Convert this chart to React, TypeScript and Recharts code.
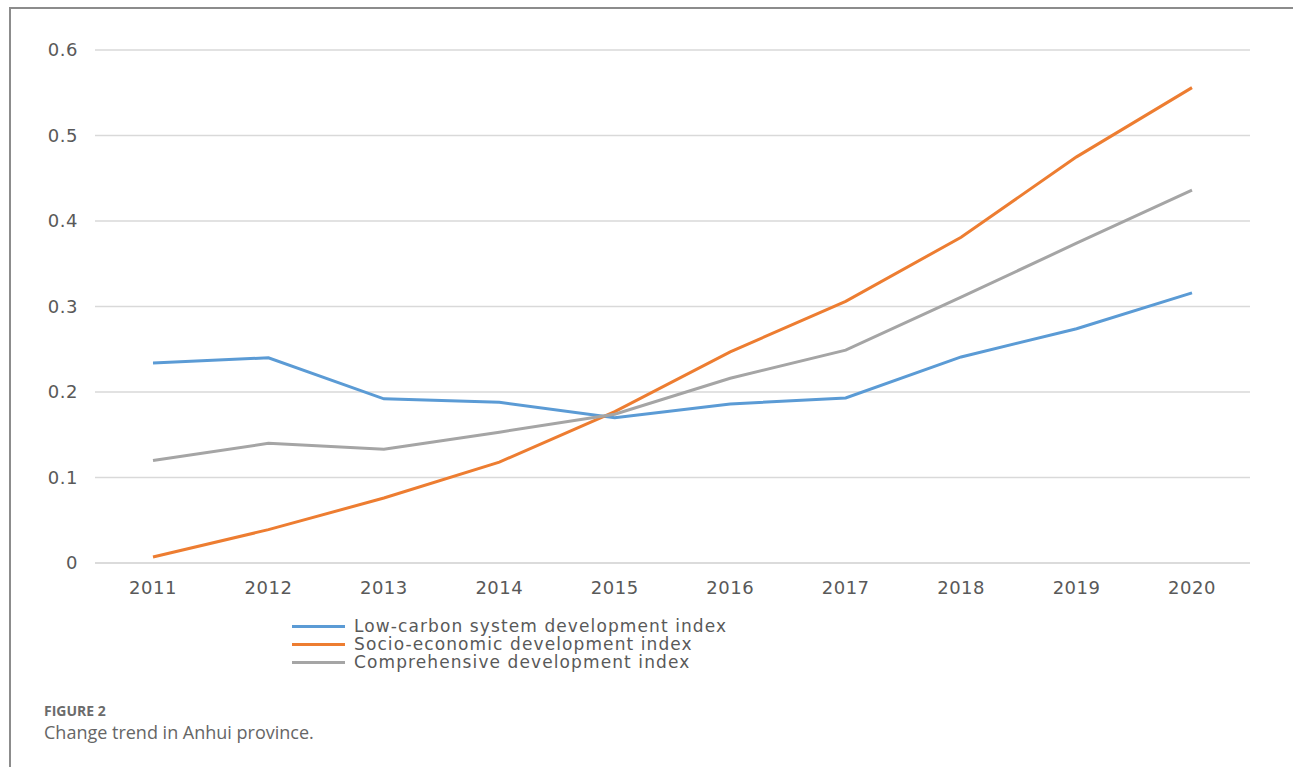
import React from "react";
import { CartesianGrid, Line, LineChart, XAxis, YAxis } from "recharts";

const years = ["2011", "2012", "2013", "2014", "2015", "2016", "2017", "2018", "2019", "2020"];
const lowCarbon = [0.234, 0.24, 0.192, 0.188, 0.17, 0.186, 0.193, 0.241, 0.274, 0.316];
const socioEconomic = [0.007, 0.039, 0.076, 0.118, 0.177, 0.247, 0.306, 0.381, 0.475, 0.556];
const comprehensive = [0.12, 0.14, 0.133, 0.153, 0.174, 0.216, 0.249, 0.311, 0.374, 0.436];
const yTicks = [0, 0.1, 0.2, 0.3, 0.4, 0.5, 0.6];

const SERIES = [
  { key: "low", name: "Low-carbon system development index", color: "#5b9bd5", values: lowCarbon },
  { key: "socio", name: "Socio-economic development index", color: "#ed7d31", values: socioEconomic },
  { key: "comp", name: "Comprehensive development index", color: "#a5a5a5", values: comprehensive },
];

const data = years.map((year, i) => {
  const row: Record<string, string | number> = { year };
  SERIES.forEach((s) => (row[s.key] = s.values[i]));
  return row;
});

const FONT = "'DejaVu Sans', sans-serif";
const tick = { fill: "#595959", fontSize: 18, fontFamily: FONT, letterSpacing: 0.5 };

export default function App() {
  return (
    <div
      style={{
        position: "absolute",
        left: 0,
        top: 0,
        width: 1293,
        height: 767,
        background: "#fff",
        overflow: "hidden",
      }}
    >
      <div
        style={{
          position: "absolute",
          left: 9,
          top: 7,
          right: -10,
          bottom: -10,
          borderTop: "2px solid #8c8c8c",
          borderLeft: "2px solid #8c8c8c",
        }}
      />
      <div style={{ position: "absolute", left: 0, top: 0 }}>
        <LineChart width={1293} height={600} data={data} margin={{ top: 50, right: 43, bottom: 7, left: 0 }}>
          <CartesianGrid vertical={false} stroke="#d9d9d9" strokeWidth={1.5} />
          <XAxis
            dataKey="year"
            tickLine={false}
            axisLine={{ stroke: "#d9d9d9", strokeWidth: 1.5 }}
            tickSize={0}
            tickMargin={18}
            tick={tick}
            padding={{ left: 58, right: 58 }}
            height={30}
          />
          <YAxis
            width={95}
            domain={[0, 0.6]}
            ticks={yTicks}
            axisLine={false}
            tickLine={false}
            tickSize={0}
            tickMargin={17}
            tick={tick}
            tickFormatter={(v: number) => (v === 0 ? "0" : v.toFixed(1))}
          />
          {SERIES.map((s) => (
            <Line
              key={s.key}
              dataKey={s.key}
              name={s.name}
              stroke={s.color}
              strokeWidth={3}
              dot={false}
              activeDot={false}
              isAnimationActive={false}
            />
          ))}
        </LineChart>
      </div>
      <div
        style={{
          position: "absolute",
          left: 292,
          top: 617,
          fontFamily: FONT,
          fontSize: 17,
          letterSpacing: 1.1,
          color: "#595959",
        }}
      >
        {SERIES.map((s) => (
          <div key={s.key} style={{ display: "flex", alignItems: "center", height: 18 }}>
            <span style={{ width: 53, height: 3, background: s.color, marginRight: 9 }} />
            <span style={{ display: "block", height: 18, lineHeight: "18px", overflow: "visible" }}>{s.name}</span>
          </div>
        ))}
      </div>
      <div
        style={{
          position: "absolute",
          left: 44,
          top: 701,
          fontFamily: "'Open Sans', sans-serif",
          fontWeight: 700,
          fontSize: 14,
          color: "#6b6b6b",
        }}
      >
        FIGURE 2
      </div>
      <div
        style={{
          position: "absolute",
          left: 44,
          top: 720,
          fontFamily: "'Open Sans', sans-serif",
          fontSize: 18,
          color: "#666",
        }}
      >
        Change trend in Anhui province.
      </div>
    </div>
  );
}
